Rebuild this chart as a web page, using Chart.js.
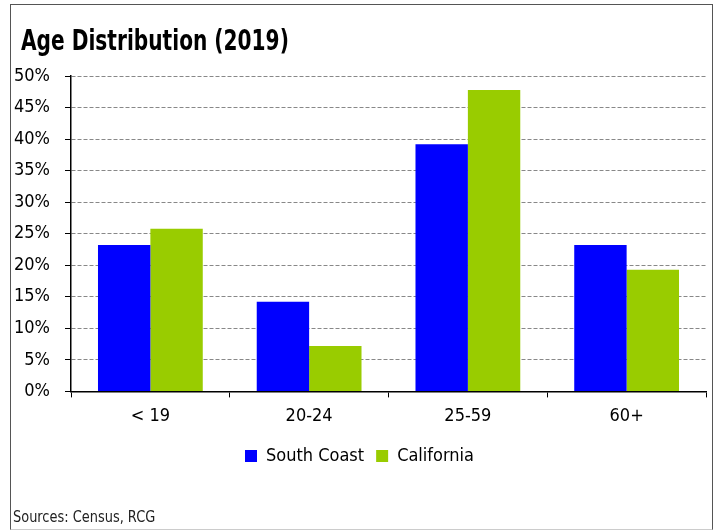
<!DOCTYPE html>
<html>
<head>
<meta charset="utf-8">
<script src="https://cdn.jsdelivr.net/npm/chart.js@4"></script>
<style>
  html, body { margin: 0; padding: 0; background: #fff; }
  #wrap { position: relative; width: 718px; height: 531px; overflow: hidden; }
  #frame {
    position: absolute; left: 10px; top: 4px; width: 701px; height: 524px;
    border: 1px solid #555; border-bottom-color: #ccc;
  }
  #title {
    position: absolute; left: 21px; top: 24px;
    font: bold 28px "DejaVu Sans Condensed", sans-serif;
    color: #000; white-space: nowrap;
    transform: scaleX(0.8); transform-origin: left top;
  }
  #source {
    position: absolute; left: 13px; top: 508px;
    font: 15px "DejaVu Sans Condensed", sans-serif;
    color: #222; white-space: nowrap;
    transform: scaleX(0.96); transform-origin: left top;
  }
  canvas { position: absolute; left: 0; top: 0; }
</style>
</head>
<body>
<div id="wrap">
  <div id="frame"></div>
  <canvas id="chart" width="718" height="531"></canvas>
  <div id="title">Age Distribution (2019)</div>
  <div id="source">Sources: Census, RCG</div>
</div>
<script>
// Age groups and population shares (%)
const ageGroups = ['< 19', '20-24', '25-59', '60+'];
const southCoast = [23.2, 14.2, 39.2, 23.2];
const california = [25.8, 7.2, 47.8, 19.3];
const yTicks = [0, 5, 10, 15, 20, 25, 30, 35, 40, 45, 50];

const fontFamily = '"DejaVu Sans Condensed", sans-serif';

const ctx = document.getElementById('chart').getContext('2d');
new Chart(ctx, {
  type: 'bar',
  data: {
    labels: ageGroups,
    datasets: [
      {
        label: 'South Coast',
        data: southCoast,
        backgroundColor: '#0000ff',
        borderWidth: 0
      },
      {
        label: 'California',
        data: california,
        backgroundColor: '#99cc00',
        borderWidth: 0
      }
    ]
  },
  options: {
    responsive: false,
    animation: false,
    devicePixelRatio: 1,
    layout: { padding: { top: 76, left: 13, right: 12, bottom: 56 } },
    datasets: {
      bar: { categoryPercentage: 0.66, barPercentage: 1.0 }
    },
    scales: {
      x: {
        offset: true,
        grid: {
          offset: true,
          drawOnChartArea: false,
          tickLength: 6,
          tickColor: '#000',
          tickWidth: 1
        },
        border: { color: '#000', width: 1.5 },
        ticks: {
          color: '#000',
          padding: 8,
          font: { family: fontFamily, size: 18 }
        }
      },
      y: {
        min: 0,
        max: 50,
        afterBuildTicks: (axis) => {
          axis.ticks = yTicks.map(v => ({ value: v }));
        },
        // fixed axis width keeps the plot's left edge in place
        afterFit: (axis) => { axis.width = 58; },
        grid: {
          color: '#888',
          lineWidth: 1,
          tickLength: 6,
          tickColor: '#000',
          tickWidth: 1,
          tickBorderDash: []
        },
        border: { color: '#000', width: 1.5, dash: [4, 2] },
        ticks: {
          color: '#000',
          padding: 15,
          font: { family: fontFamily, size: 18 },
          callback: (v) => v + '%'
        }
      }
    },
    plugins: {
      legend: {
        position: 'bottom',
        labels: {
          color: '#000',
          boxWidth: 12,
          boxHeight: 12,
          padding: 12,
          font: { family: fontFamily, size: 18 }
        }
      },
      tooltip: { enabled: false }
    }
  }
});
</script>
</body>
</html>
